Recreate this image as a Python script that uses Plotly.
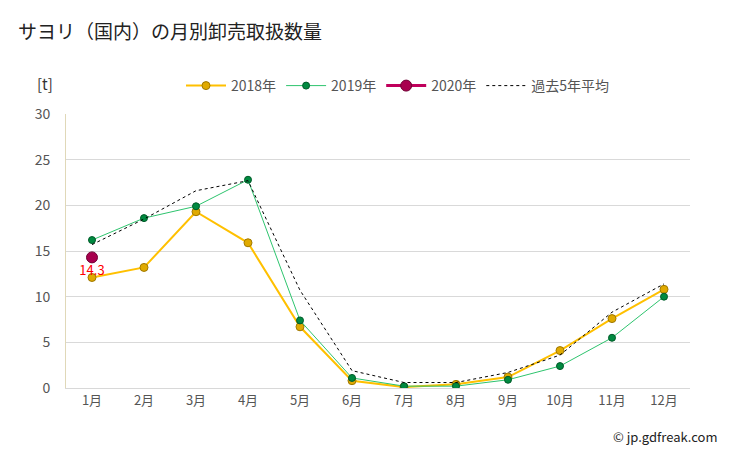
import plotly.graph_objects as go

months = ["1月", "2月", "3月", "4月", "5月", "6月", "7月", "8月", "9月", "10月", "11月", "12月"]
y2018 = [12.1, 13.2, 19.3, 15.9, 6.7, 0.8, 0.1, 0.4, 1.2, 4.1, 7.6, 10.8]
y2019 = [16.2, 18.6, 19.9, 22.8, 7.4, 1.1, 0.2, 0.2, 0.9, 2.4, 5.5, 10.0]
y2020 = [14.3]
avg5 = [15.7, 18.5, 21.6, 22.7, 10.7, 1.9, 0.6, 0.6, 1.7, 3.6, 8.3, 11.4]
yticks = [0, 5, 10, 15, 20, 25, 30]

FONT = "Noto Sans CJK JP"

fig = go.Figure()
fig.add_trace(go.Scatter(
    x=months, y=y2018, name="2018年", mode="lines+markers",
    line=dict(color="#ffc000", width=2),
    marker=dict(color="#e0aa00", size=8, line=dict(color="#a07800", width=1)),
))
fig.add_trace(go.Scatter(
    x=months, y=y2019, name="2019年", mode="lines+markers",
    line=dict(color="#2ec46e", width=1),
    marker=dict(color="#008a40", size=7, line=dict(color="#005a28", width=1)),
))
fig.add_trace(go.Scatter(
    x=months[:len(y2020)], y=y2020, name="2020年", mode="lines+markers+text",
    line=dict(color="#c0005c", width=3),
    marker=dict(color="#a8004e", size=11, line=dict(color="#700034", width=1)),
    text=[f"{v}" for v in y2020], textposition="bottom center",
    textfont=dict(color="#ff0000", size=13, family=FONT),
))
fig.add_trace(go.Scatter(
    x=months, y=avg5, name="過去5年平均", mode="lines",
    line=dict(color="#000000", width=1, dash="dot"),
))

plot_w = 729 - 66 - 39
plot_h = 451 - 114 - 63

fig.update_layout(
    width=729, height=451,
    margin=dict(l=66, r=39, t=114, b=63),
    paper_bgcolor="white", plot_bgcolor="white",
    font=dict(family=FONT, color="#555555", size=13),
    title=dict(text="サヨリ（国内）の月別卸売取扱数量", x=18 / 729, xanchor="left", y=1 - 32 / 451, yanchor="middle",
               font=dict(size=19, color="#222222", family=FONT)),
    showlegend=True,
    legend=dict(orientation="h", x=(398 - 66) / plot_w, xanchor="center", y=(388 - 86) / plot_h, yanchor="middle",
                font=dict(size=14, color="#555555", family=FONT), bgcolor="rgba(0,0,0,0)",
                itemwidth=40, tracegroupgap=0),
    xaxis=dict(type="category", range=[-0.5, 11.5], showgrid=False, showline=True,
               linecolor="#d8d8d8", linewidth=1, ticks="", tickfont=dict(size=13, color="#555555"),
               zeroline=False, fixedrange=True),
    yaxis=dict(range=[0, 30], tickvals=yticks, showgrid=True, gridcolor="#d9d9d9", gridwidth=1,
               showline=True, linecolor="#e0d8b8", linewidth=1, ticks="", zeroline=False,
               tickfont=dict(size=14, color="#555555"), ticklabelstandoff=12),
    annotations=[
        dict(text="[t]", x=(45 - 66) / plot_w, y=(388 - 83) / plot_h, xanchor="center", yanchor="middle",
             xref="paper", yref="paper", showarrow=False,
             font=dict(size=15, color="#333333", family=FONT)),
        dict(text="© jp.gdfreak.com", x=(720 - 66) / plot_w, y=(388 - 436) / plot_h, xref="paper", yref="paper",
             xanchor="right", yanchor="middle",
             showarrow=False, font=dict(size=13, color="#222222", family=FONT)),
    ],
)

fig.write_html("out.html")
